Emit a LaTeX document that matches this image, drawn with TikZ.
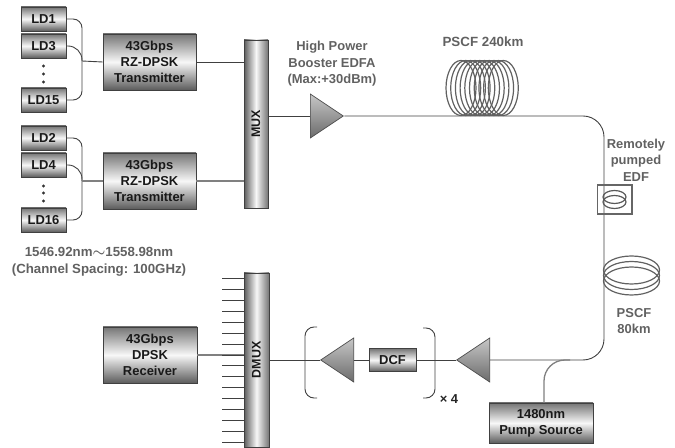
\documentclass[tikz,border=0pt]{standalone}
\usepackage{fontspec}
\setmainfont{Liberation Sans}
\usepackage{tikz}
\usetikzlibrary{calc,positioning,shapes.geometric}
\definecolor{wirecol}{rgb}{0.25,0.25,0.25}
\definecolor{labelcol}{rgb}{0.38,0.38,0.38}
\definecolor{boxtop}{rgb}{0.46,0.46,0.46}
\definecolor{boxmid}{rgb}{0.97,0.97,0.97}
\definecolor{boxlow}{rgb}{0.36,0.36,0.36}
\tikzset{
  wire/.style={draw=wirecol,line width=0.9bp},
  greywire/.style={draw=black!50,line width=1.3bp},
  coilline/.style={draw=black!62,line width=1.2bp},
  unit/.style={draw=black!75,line width=0.8bp,top color=boxtop,bottom color=boxlow,middle color=boxmid,
    inner sep=0pt,align=center,font=\bfseries\fontsize{13}{16}\selectfont,text=black!90},
  ldbox/.style={unit,minimum width=45bp,minimum height=24bp},
  txbox/.style={unit,minimum width=93bp,minimum height=56bp},
  muxbar/.style={draw=black!75,line width=0.8bp,left color=boxlow,right color=boxtop,middle color=boxmid,
    inner sep=0pt,font=\bfseries\fontsize{12.5}{14}\selectfont,text=black!90},
  amp/.style={isosceles triangle,isosceles triangle stretches,draw=black!70,line width=0.7bp,
    top color=black!22,bottom color=black!58,inner sep=0pt,minimum width=44bp,minimum height=33bp},
  tag/.style={align=center,text=labelcol,font=\bfseries\fontsize{13}{16.5}\selectfont},
}
\begin{document}
\begin{tikzpicture}
  \useasboundingbox (0bp,0bp) rectangle (675bp,448bp);
  % Node: lasers
  \node [ldbox] (ld1) at (43.5bp,429bp) {LD1};
  \node [ldbox] (ld3) at (43.5bp,402bp) {LD3};
  \node [ldbox] (ld15) at (43.5bp,348bp) {LD15};
  \node [ldbox] (ld2) at (43.5bp,310bp) {LD2};
  \node [ldbox] (ld4) at (43.5bp,283bp) {LD4};
  \node [ldbox] (ld16) at (43.5bp,228bp) {LD16};
  \foreach \ypos in {382,374,366,262,255,247}
    \fill [black!80] (43.5bp,\ypos bp) circle (1.6bp);
  % Node: transmitters, mux
  \node [txbox] (tx1) at (149.5bp,386bp) {43Gbps\\RZ-DPSK\\Transmitter};
  \node [txbox] (tx2) at (149.5bp,267bp) {43Gbps\\RZ-DPSK\\Transmitter};
  \node [muxbar,minimum width=168bp,minimum height=24bp,rotate=90] (mux) at (256bp,324bp) {MUX};
  \node [muxbar,minimum width=174bp,minimum height=25bp,rotate=90] (dmux) at (256.5bp,88bp) {DMUX};
  \node [txbox,minimum width=94bp] (rx) at (150bp,93bp) {43Gbps\\DPSK\\Receiver};
  \node [unit,minimum width=47bp,minimum height=23bp] (dcf) at (392.5bp,88bp) {DCF};
  \node [unit,minimum width=104bp,minimum height=40bp] (pump) at (541bp,25bp) {1480nm\\Pump Source};
  % Node: amplifiers
  \node [amp,anchor=lower side] (booster) at (310bp,332bp) {};
  \node [amp,anchor=lower side,shape border rotate=180] (inline) at (490bp,88bp) {};
  \node [amp,anchor=lower side,shape border rotate=180] (preamp) at (354bp,88bp) {};
  % Node: junctions
  \coordinate (bus1) at (82bp,387bp);
  \coordinate (bus2) at (82bp,267bp);
  \coordinate (span) at (604bp,240bp);
  \coordinate (pumpjoin) at (570bp,88bp);
  \coordinate (pumpout) at (544bp,45bp);
  % Edge: lasers -> transmitters
  \draw [wire,rounded corners=9bp] (ld1.east) -| (bus1);
  \draw [wire,rounded corners=14bp] (ld3.east) -| (bus1);
  \draw [wire,rounded corners=9bp] (ld15.east) -| (bus1);
  \draw [wire] (bus1) -- (tx1.west);
  \draw [wire,rounded corners=9bp] (ld2.east) -| (bus2);
  \draw [wire,rounded corners=14bp] (ld4.east) -| (bus2);
  \draw [wire,rounded corners=9bp] (ld16.east) -| (bus2);
  \draw [greywire] (bus2) -- (tx2.west);
  % Edge: transmitters -> mux
  \draw [wire] (tx1.east) -- (tx1.east -| mux.north);
  \draw [greywire] (tx2.east) -- (tx2.east -| mux.north);
  \draw [wire] (booster.lower side -| mux.south) -- (booster.lower side);
  % Edge: booster -> inline amplifier
  \draw [wire,rounded corners=21bp] (booster.apex) -| (span) |- (inline.lower side);
  \draw [greywire,rounded corners=21bp] (pumpout) |- (pumpjoin);
  % Edge: inline amplifier -> dmux
  \draw [wire] (inline.apex) -- (dcf.east);
  \draw [wire] (dcf.west) -- (preamp.lower side);
  \draw [wire] (preamp.apex) -- (preamp.apex -| dmux.south);
  \draw [greywire] (rx.east) -- (rx.east -| dmux.north);
  % Edge: dmux tails
  \foreach \tail in {0,...,15}
    \draw [wire] (222bp,169.3bp-\tail*10.9bp) -- (244bp,169.3bp-\tail*10.9bp);
  % brackets
  \draw [wire,rounded corners=9bp] (317bp,121bp) -| (305bp,50bp) -- (317bp,50bp);
  \draw [wire,rounded corners=9bp] (423bp,120bp) -| (435bp,50bp) -- (423bp,50bp);
  % Node: PSCF 240km coil
  \foreach \loopx in {0,...,9}
    \draw [coilline] (461bp+\loopx*4.7bp,360bp) ellipse (15bp and 27.5bp);
  \draw [coilline] (461bp,387.5bp) -- (503bp,387.5bp);
  \draw [coilline] (461bp,332.5bp) -- (503bp,332.5bp);
  % Node: PSCF 80km coil
  \foreach \loopy in {0,1,2}
    \draw [coilline] (631.5bp,167bp+\loopy*5.5bp) ellipse (28bp and 14bp);
  % Node: EDF box
  \draw [draw=black!60,line width=1.4bp] (597.5bp,234bp) rectangle (632bp,263bp);
  \foreach \loopy in {0,1}
    \draw [draw=black!65,line width=1.2bp] (614.5bp,246bp+\loopy*5bp) ellipse (11.5bp and 6.5bp);
  % Node: labels
  \node [tag] (boosterlabel) at (332bp,384bp) {High Power\\Booster EDFA\\(Max:+30dBm)};
  \node [tag,font=\bfseries\fontsize{13.4}{16}\selectfont] (pscflong) at (483bp,406bp) {PSCF 240km};
  \node [tag] (edflabel) at (636bp,288bp) {Remotely\\pumped\\EDF};
  \node [tag] (pscfshort) at (634bp,127bp) {PSCF\\80km};
  \node [tag,font=\bfseries\fontsize{13.3}{16.8}\selectfont] (wavelabel) at (99bp,186bp) {1546.92nm{\boldmath$\sim$}1558.98nm\\(Channel Spacing: 100GHz)};
  \node [tag,text=black!85] (repeat) at (449bp,49bp) {× 4};
\end{tikzpicture}
\end{document}
